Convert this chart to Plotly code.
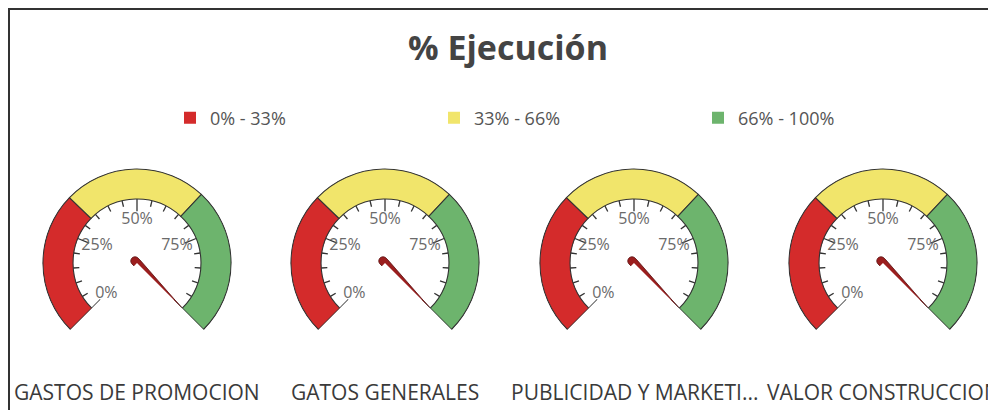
import numpy as np
import plotly.graph_objects as go

# ---------------- data ----------------
categories = ["GASTOS DE PROMOCION", "GATOS GENERALES", "PUBLICIDAD Y MARKETI...", "VALOR CONSTRUCCION"]
values = [100, 100, 100, 100]
band_names = ["0% - 33%", "33% - 66%", "66% - 100%"]
band_from = [0, 33, 66]
band_to = [33, 66, 100]
band_colors = ["#d42b2b", "#f1e56b", "#6db46d"]
tick_values = [0, 25, 50, 75]
tick_labels = ["0%", "25%", "50%", "75%"]
title_text = "% Ejecución"

# ---------------- layout constants ----------------
# the page body has an 8px margin, so figure pixel = screen pixel - 8
OFF = 8
W, H = 980, 402
SWEEP = 270.0          # degrees covering 0..100 %
R_IN, R_OUT = 0.68, 1.0
centers_px = [137 - OFF, 385 - OFF, 634 - OFF, 883 - OFF]
CY_PX, R_PX = 263 - OFF, 95
FONT = "Open Sans"


def ang(v):
    return v * SWEEP / 100.0


fig = go.Figure()
layout_polars = {}

for i, cat in enumerate(categories):
    pname = "polar" if i == 0 else f"polar{i+1}"
    # bands
    for j in range(len(band_names)):
        fig.add_trace(go.Barpolar(
            r=[R_OUT - R_IN], base=[R_IN],
            theta=[ang((band_from[j] + band_to[j]) / 2)],
            width=[ang(band_to[j] - band_from[j])],
            marker=dict(color=band_colors[j], line=dict(color="#333333", width=1.1)),
            subplot=pname, showlegend=False, hoverinfo="skip", name=band_names[j]))
    # ticks
    tr, tt = [], []
    for v in range(0, 101, 5):
        inner = 0.55 if v % 25 == 0 else 0.615
        tr += [inner, R_IN, None]
        tt += [ang(v), ang(v), None]
    fig.add_trace(go.Scatterpolar(r=tr, theta=tt, mode="lines",
                                  line=dict(color="#333333", width=1.3),
                                  subplot=pname, showlegend=False, hoverinfo="skip"))
    # tick labels
    fig.add_trace(go.Scatterpolar(r=[0.46] * len(tick_values), theta=[ang(v) for v in tick_values],
                                  mode="text", text=tick_labels,
                                  textfont=dict(family=FONT, size=16, color="#6a6a6a"),
                                  subplot=pname, showlegend=False, hoverinfo="skip"))
    # needle (shape in needle-local frame, rotated to the value angle)
    th = ang(values[i])
    hw = 0.045
    pts = [(0.67, 0.0), (0.0, hw)]
    for a in np.linspace(90, 270, 13):
        pts.append((-0.03 + hw * np.cos(np.radians(a)), hw * np.sin(np.radians(a))))
    pts += [(0.0, -hw), (0.67, 0.0)]
    nr = [float(np.hypot(u, w)) for u, w in pts]
    nt = [th + float(np.degrees(np.arctan2(w, u))) for u, w in pts]
    fig.add_trace(go.Scatterpolar(r=nr, theta=nt, mode="lines", fill="toself",
                                  fillcolor="#9b1e1e", line=dict(color="#5a1010", width=0.8),
                                  subplot=pname, showlegend=False, hoverinfo="skip"))

    cx = centers_px[i]
    layout_polars[pname] = dict(
        domain=dict(x=[(cx - R_PX) / W, (cx + R_PX) / W],
                    y=[1 - (CY_PX + R_PX * 0.7071) / H, 1 - (CY_PX - R_PX) / H]),
        sector=[-45, 225],
        bgcolor="rgba(0,0,0,0)",
        radialaxis=dict(range=[0, 1.01], visible=False),
        angularaxis=dict(rotation=225, direction="clockwise", visible=False,
                         thetaunit="degrees"),
    )

# legend entries
for j in range(len(band_names)):
    fig.add_trace(go.Scatterpolar(r=[None], theta=[None], mode="markers",
                                  marker=dict(symbol="square", size=12, color=band_colors[j]),
                                  name=band_names[j], subplot="polar", showlegend=True))

annotations = []
for i, cat in enumerate(categories):
    annotations.append(dict(text=cat, x=centers_px[i] / W, y=1 - (392 - OFF) / H,
                            xref="paper", yref="paper",
                            showarrow=False, xanchor="center", yanchor="middle",
                            font=dict(family=FONT, size=21, color="#3a3a3a")))

fig.update_layout(
    width=W, height=H,
    margin=dict(l=0, r=0, t=0, b=0),
    paper_bgcolor="white", plot_bgcolor="white",
    title=dict(text=title_text, x=(508 - OFF) / W, xanchor="center", y=1 - (48 - OFF) / H,
               yanchor="middle",
               font=dict(family=FONT, size=34, color="#444444", weight="bold")),
    legend=dict(orientation="h", x=(170 - OFF) / W, xanchor="left", y=1 - (118 - OFF) / H,
                yanchor="middle", entrywidth=219, entrywidthmode="pixels",
                font=dict(family=FONT, size=18, color="#555555"), bgcolor="rgba(0,0,0,0)"),
    annotations=annotations,
    shapes=[dict(type="rect", xref="paper", yref="paper", x0=1 / W, x1=1.05, y0=-0.05, y1=1 - 1 / H,
                 line=dict(color="#333333", width=2), fillcolor="rgba(0,0,0,0)")],
    **layout_polars,
)

fig.write_html("out.html")
